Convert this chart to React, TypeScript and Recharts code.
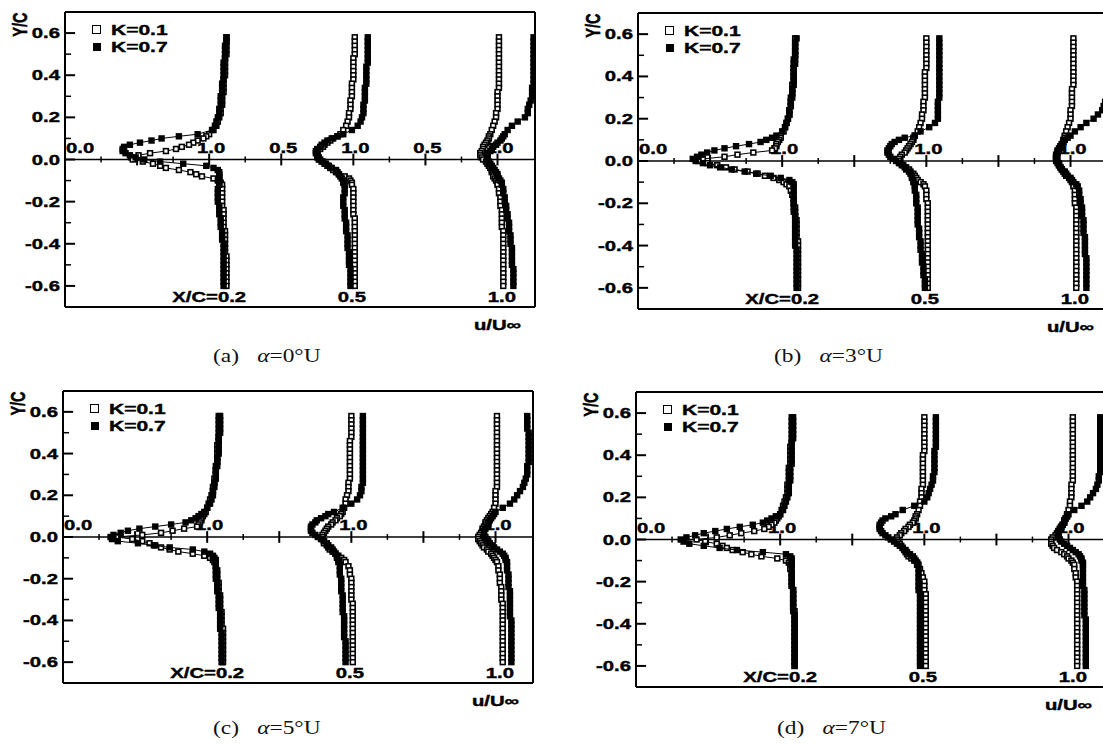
import React from 'react';
import { ComposedChart, Scatter, XAxis, YAxis, ReferenceLine, ReferenceDot, Legend } from 'recharts';

// Y/C measuring stations (shared by every profile)
const yStations = [
  0.58, 0.56, 0.54, 0.52, 0.50, 0.48, 0.46, 0.44, 0.42, 0.40, 0.38, 0.36, 0.34, 0.32, 0.30, 0.28, 0.26, 0.24, 0.22, 0.20, 0.18, 0.16, 0.14,
  0.12, 0.11, 0.10, 0.09, 0.08, 0.07, 0.06, 0.05, 0.04, 0.03, 0.02, 0.01, 0.00, -0.01, -0.02, -0.03, -0.04, -0.05, -0.06, -0.07, -0.08, -0.09, -0.10, -0.11, -0.12,
  -0.14, -0.16, -0.18, -0.20, -0.22, -0.24, -0.26, -0.28, -0.30, -0.32, -0.34, -0.36, -0.38, -0.40, -0.42, -0.44, -0.46, -0.48, -0.50, -0.52, -0.54, -0.56, -0.58, -0.60,
];

// u/U∞ at each station. a = α 0°, b = 3°, c = 5°, d = 7° ; 02/05/10 = X/C ; k01/k07 = K
const a02_k01 = [
  1.12, 1.12, 1.12, 1.12, 1.12, 1.11, 1.11, 1.11, 1.11, 1.11, 1.10, 1.10, 1.10, 1.10, 1.09, 1.09, 1.09, 1.08, 1.08, 1.07, 1.06, 1.05, 1.03,
  1.00, 0.98, 0.96, 0.92, 0.89, 0.86, 0.81, 0.77, 0.70, 0.59, 0.51, 0.46, 0.47, 0.54, 0.61, 0.66, 0.70, 0.79, 0.87, 0.91, 0.95, 1.03, 1.06, 1.08, 1.09,
  1.09, 1.09, 1.09, 1.09, 1.09, 1.10, 1.10, 1.10, 1.10, 1.10, 1.11, 1.11, 1.11, 1.11, 1.11, 1.11, 1.12, 1.12, 1.12, 1.12, 1.12, 1.12, 1.12, 1.12,
];
const a02_k07 = [
  1.12, 1.12, 1.11, 1.11, 1.11, 1.11, 1.10, 1.10, 1.10, 1.10, 1.10, 1.09, 1.09, 1.09, 1.08, 1.08, 1.08, 1.07, 1.07, 1.06, 1.05, 1.04, 1.02,
  0.92, 0.79, 0.67, 0.60, 0.52, 0.45, 0.41, 0.40, 0.40, 0.42, 0.45, 0.49, 0.55, 0.66, 0.82, 0.98, 1.03, 1.06, 1.07, 1.07, 1.07, 1.07, 1.07, 1.07, 1.07,
  1.06, 1.06, 1.06, 1.06, 1.07, 1.07, 1.07, 1.08, 1.08, 1.08, 1.09, 1.09, 1.09, 1.10, 1.10, 1.10, 1.10, 1.10, 1.10, 1.10, 1.10, 1.10, 1.10, 1.10,
];
const a05_k01 = [
  1.01, 1.01, 1.01, 1.01, 1.01, 1.00, 1.00, 1.00, 1.00, 1.00, 1.00, 0.99, 0.99, 0.99, 0.99, 0.98, 0.98, 0.98, 0.97, 0.97, 0.96, 0.95, 0.93,
  0.91, 0.89, 0.86, 0.84, 0.82, 0.80, 0.79, 0.77, 0.75, 0.75, 0.75, 0.75, 0.76, 0.78, 0.80, 0.82, 0.84, 0.86, 0.88, 0.90, 0.94, 0.97, 0.98, 0.99, 0.99,
  1.00, 1.00, 1.00, 1.00, 1.00, 1.00, 1.00, 1.01, 1.01, 1.01, 1.01, 1.01, 1.01, 1.01, 1.01, 1.01, 1.01, 1.01, 1.01, 1.01, 1.01, 1.01, 1.01, 1.01,
];
const a05_k07 = [
  1.10, 1.10, 1.10, 1.10, 1.10, 1.10, 1.10, 1.09, 1.09, 1.09, 1.09, 1.09, 1.08, 1.08, 1.08, 1.08, 1.07, 1.07, 1.07, 1.06, 1.05, 1.03, 0.99,
  0.93, 0.89, 0.85, 0.82, 0.80, 0.78, 0.77, 0.75, 0.74, 0.74, 0.75, 0.76, 0.77, 0.79, 0.81, 0.83, 0.85, 0.88, 0.89, 0.90, 0.91, 0.92, 0.93, 0.93, 0.94,
  0.94, 0.94, 0.93, 0.93, 0.93, 0.94, 0.94, 0.94, 0.95, 0.95, 0.95, 0.96, 0.96, 0.96, 0.96, 0.97, 0.97, 0.97, 0.97, 0.98, 0.98, 0.98, 0.98, 0.98,
];
const a10_k01 = [
  1.01, 1.01, 1.01, 1.01, 1.01, 1.01, 1.01, 1.01, 1.01, 1.01, 1.01, 1.01, 1.01, 1.00, 1.00, 1.00, 1.00, 1.00, 0.99, 0.99, 0.98, 0.97, 0.96,
  0.95, 0.94, 0.94, 0.93, 0.92, 0.91, 0.90, 0.90, 0.89, 0.88, 0.88, 0.89, 0.90, 0.92, 0.93, 0.94, 0.95, 0.96, 0.96, 0.97, 0.97, 0.98, 0.99, 1.00, 1.00,
  1.01, 1.01, 1.02, 1.02, 1.02, 1.03, 1.03, 1.03, 1.03, 1.03, 1.04, 1.04, 1.04, 1.04, 1.04, 1.04, 1.04, 1.04, 1.04, 1.04, 1.04, 1.04, 1.04, 1.04,
];
const a10_k07 = [
  1.25, 1.25, 1.25, 1.25, 1.25, 1.25, 1.25, 1.25, 1.25, 1.25, 1.25, 1.25, 1.24, 1.24, 1.24, 1.23, 1.22, 1.21, 1.21, 1.19, 1.14, 1.10, 1.07,
  1.05, 1.04, 1.03, 1.02, 1.00, 0.99, 0.97, 0.96, 0.95, 0.93, 0.93, 0.93, 0.93, 0.94, 0.95, 0.96, 0.97, 0.98, 0.99, 1.00, 1.00, 1.01, 1.02, 1.03, 1.03,
  1.04, 1.04, 1.05, 1.05, 1.06, 1.06, 1.07, 1.07, 1.08, 1.08, 1.08, 1.09, 1.09, 1.09, 1.10, 1.10, 1.10, 1.10, 1.10, 1.11, 1.11, 1.11, 1.11, 1.11,
];

const b02_k01 = [
  1.09, 1.09, 1.09, 1.09, 1.09, 1.08, 1.08, 1.08, 1.08, 1.08, 1.08, 1.07, 1.07, 1.07, 1.06, 1.06, 1.06, 1.05, 1.05, 1.04, 1.03, 1.02, 1.01,
  0.99, 0.99, 0.98, 0.97, 0.96, 0.96, 0.95, 0.93, 0.80, 0.69, 0.60, 0.45, 0.42, 0.48, 0.55, 0.61, 0.67, 0.76, 0.83, 0.88, 0.94, 0.98, 1.01, 1.03, 1.05,
  1.06, 1.07, 1.08, 1.08, 1.09, 1.09, 1.09, 1.10, 1.10, 1.10, 1.10, 1.10, 1.11, 1.11, 1.11, 1.11, 1.11, 1.11, 1.11, 1.11, 1.11, 1.11, 1.11, 1.11,
];
const b02_k07 = [
  1.10, 1.09, 1.09, 1.09, 1.09, 1.09, 1.09, 1.08, 1.08, 1.08, 1.08, 1.08, 1.07, 1.07, 1.07, 1.06, 1.06, 1.05, 1.05, 1.04, 1.03, 1.02, 1.00,
  0.96, 0.93, 0.89, 0.85, 0.77, 0.68, 0.60, 0.53, 0.48, 0.44, 0.41, 0.38, 0.40, 0.45, 0.50, 0.57, 0.65, 0.74, 0.82, 0.92, 0.99, 1.05, 1.07, 1.08, 1.08,
  1.08, 1.08, 1.08, 1.08, 1.08, 1.08, 1.09, 1.09, 1.09, 1.09, 1.09, 1.09, 1.09, 1.09, 1.10, 1.10, 1.10, 1.10, 1.10, 1.10, 1.10, 1.10, 1.10, 1.10,
];
const b05_k01 = [
  1.00, 1.00, 1.00, 1.00, 1.00, 1.00, 1.00, 1.00, 0.99, 0.99, 0.99, 0.99, 0.99, 0.99, 0.99, 0.98, 0.98, 0.98, 0.97, 0.97, 0.96, 0.95, 0.94,
  0.92, 0.91, 0.91, 0.90, 0.89, 0.88, 0.87, 0.86, 0.85, 0.83, 0.82, 0.81, 0.81, 0.82, 0.84, 0.86, 0.88, 0.89, 0.91, 0.92, 0.93, 0.94, 0.96, 0.98, 0.99,
  1.00, 1.00, 1.00, 1.01, 1.01, 1.01, 1.01, 1.01, 1.01, 1.01, 1.01, 1.01, 1.01, 1.01, 1.01, 1.01, 1.01, 1.01, 1.01, 1.01, 1.01, 1.01, 1.01, 1.01,
];
const b05_k07 = [
  1.09, 1.09, 1.09, 1.09, 1.09, 1.09, 1.09, 1.09, 1.09, 1.09, 1.09, 1.09, 1.09, 1.09, 1.09, 1.08, 1.08, 1.08, 1.08, 1.08, 1.06, 1.02, 0.96,
  0.92, 0.85, 0.81, 0.78, 0.76, 0.75, 0.74, 0.73, 0.73, 0.74, 0.75, 0.77, 0.79, 0.81, 0.83, 0.85, 0.86, 0.88, 0.89, 0.90, 0.90, 0.91, 0.91, 0.92, 0.92,
  0.92, 0.93, 0.93, 0.93, 0.94, 0.94, 0.94, 0.94, 0.94, 0.95, 0.95, 0.95, 0.96, 0.96, 0.96, 0.97, 0.97, 0.97, 0.98, 0.98, 0.98, 0.99, 0.99, 0.99,
];
const b10_k01 = [
  1.02, 1.02, 1.02, 1.02, 1.02, 1.02, 1.02, 1.02, 1.02, 1.02, 1.02, 1.02, 1.01, 1.01, 1.01, 1.01, 1.01, 1.00, 1.00, 1.00, 0.99, 0.98, 0.97,
  0.96, 0.96, 0.95, 0.95, 0.94, 0.93, 0.93, 0.92, 0.91, 0.91, 0.90, 0.90, 0.90, 0.91, 0.92, 0.93, 0.94, 0.95, 0.96, 0.97, 0.99, 1.00, 1.01, 1.02, 1.02,
  1.03, 1.03, 1.03, 1.03, 1.04, 1.04, 1.04, 1.04, 1.04, 1.04, 1.04, 1.04, 1.04, 1.04, 1.04, 1.04, 1.04, 1.04, 1.04, 1.04, 1.04, 1.04, 1.04, 1.04,
];
const b10_k07 = [
  1.26, 1.26, 1.26, 1.26, 1.26, 1.26, 1.26, 1.26, 1.26, 1.26, 1.26, 1.26, 1.25, 1.25, 1.25, 1.24, 1.23, 1.22, 1.19, 1.16, 1.11, 1.07, 1.03,
  1.00, 0.98, 0.96, 0.95, 0.94, 0.93, 0.92, 0.91, 0.91, 0.90, 0.90, 0.90, 0.91, 0.92, 0.92, 0.93, 0.94, 0.96, 0.97, 0.98, 1.00, 1.01, 1.02, 1.04, 1.05,
  1.06, 1.06, 1.07, 1.07, 1.08, 1.08, 1.08, 1.09, 1.09, 1.09, 1.09, 1.10, 1.10, 1.10, 1.10, 1.10, 1.11, 1.11, 1.11, 1.11, 1.11, 1.11, 1.11, 1.11,
];

const c02_k01 = [
  1.08, 1.08, 1.08, 1.08, 1.08, 1.08, 1.08, 1.07, 1.07, 1.07, 1.07, 1.07, 1.06, 1.06, 1.06, 1.05, 1.05, 1.04, 1.04, 1.03, 1.02, 1.01, 1.00,
  0.99, 0.98, 0.97, 0.96, 0.96, 0.95, 0.94, 0.93, 0.84, 0.76, 0.68, 0.55, 0.37, 0.48, 0.55, 0.60, 0.64, 0.68, 0.74, 0.80, 0.90, 0.98, 1.02, 1.04, 1.05,
  1.06, 1.07, 1.07, 1.07, 1.08, 1.08, 1.08, 1.09, 1.09, 1.09, 1.09, 1.10, 1.10, 1.10, 1.10, 1.11, 1.11, 1.11, 1.11, 1.11, 1.11, 1.11, 1.11, 1.11,
];
const c02_k07 = [
  1.09, 1.09, 1.09, 1.09, 1.09, 1.08, 1.08, 1.08, 1.08, 1.08, 1.07, 1.07, 1.07, 1.06, 1.06, 1.06, 1.05, 1.05, 1.04, 1.04, 1.03, 1.02, 1.00,
  0.98, 0.96, 0.94, 0.92, 0.89, 0.85, 0.75, 0.64, 0.53, 0.45, 0.40, 0.35, 0.33, 0.34, 0.38, 0.52, 0.63, 0.74, 0.90, 0.98, 1.02, 1.04, 1.05, 1.06, 1.06,
  1.06, 1.06, 1.06, 1.06, 1.07, 1.07, 1.07, 1.08, 1.08, 1.08, 1.08, 1.09, 1.09, 1.09, 1.09, 1.09, 1.10, 1.10, 1.10, 1.10, 1.10, 1.10, 1.10, 1.10,
];
const c05_k01 = [
  1.00, 1.00, 1.00, 1.00, 1.00, 1.00, 0.99, 0.99, 0.99, 0.99, 0.99, 0.99, 0.99, 0.99, 0.99, 0.99, 0.98, 0.98, 0.98, 0.97, 0.96, 0.96, 0.95,
  0.94, 0.93, 0.92, 0.90, 0.89, 0.87, 0.86, 0.84, 0.83, 0.82, 0.81, 0.80, 0.80, 0.80, 0.81, 0.81, 0.83, 0.84, 0.85, 0.87, 0.89, 0.91, 0.93, 0.95, 0.96,
  0.98, 0.99, 0.99, 1.00, 1.00, 1.00, 1.00, 1.00, 1.00, 1.01, 1.01, 1.01, 1.01, 1.01, 1.01, 1.01, 1.01, 1.01, 1.01, 1.01, 1.01, 1.01, 1.01, 1.01,
];
const c05_k07 = [
  1.08, 1.08, 1.08, 1.08, 1.08, 1.08, 1.08, 1.08, 1.08, 1.08, 1.08, 1.08, 1.08, 1.08, 1.08, 1.08, 1.08, 1.07, 1.07, 1.06, 1.04, 1.00, 0.94,
  0.88, 0.84, 0.82, 0.79, 0.76, 0.75, 0.73, 0.72, 0.72, 0.72, 0.73, 0.75, 0.77, 0.79, 0.81, 0.83, 0.84, 0.86, 0.87, 0.88, 0.89, 0.90, 0.90, 0.91, 0.91,
  0.92, 0.92, 0.92, 0.93, 0.93, 0.93, 0.93, 0.94, 0.94, 0.94, 0.94, 0.94, 0.95, 0.95, 0.95, 0.95, 0.95, 0.95, 0.96, 0.96, 0.96, 0.96, 0.96, 0.96,
];
const c10_k01 = [
  1.01, 1.01, 1.01, 1.01, 1.01, 1.01, 1.01, 1.01, 1.01, 1.01, 1.01, 1.01, 1.01, 1.01, 1.01, 1.01, 1.01, 1.01, 1.00, 1.00, 1.00, 1.00, 0.99,
  0.98, 0.97, 0.96, 0.95, 0.94, 0.93, 0.93, 0.92, 0.91, 0.91, 0.90, 0.89, 0.88, 0.88, 0.89, 0.90, 0.91, 0.92, 0.94, 0.95, 0.97, 0.98, 0.99, 1.00, 1.01,
  1.02, 1.02, 1.03, 1.03, 1.03, 1.04, 1.04, 1.04, 1.04, 1.05, 1.05, 1.05, 1.05, 1.05, 1.05, 1.05, 1.05, 1.05, 1.05, 1.05, 1.05, 1.05, 1.05, 1.05,
];
const c10_k07 = [
  1.22, 1.22, 1.22, 1.22, 1.23, 1.23, 1.23, 1.23, 1.23, 1.23, 1.23, 1.23, 1.22, 1.22, 1.22, 1.21, 1.20, 1.19, 1.17, 1.15, 1.13, 1.10, 1.05,
  1.00, 0.99, 0.98, 0.97, 0.96, 0.95, 0.95, 0.94, 0.93, 0.92, 0.92, 0.92, 0.93, 0.94, 0.95, 0.96, 0.98, 0.99, 1.01, 1.03, 1.05, 1.06, 1.07, 1.07, 1.08,
  1.08, 1.08, 1.09, 1.09, 1.09, 1.09, 1.10, 1.10, 1.10, 1.10, 1.10, 1.10, 1.10, 1.11, 1.11, 1.11, 1.11, 1.11, 1.11, 1.11, 1.11, 1.11, 1.11, 1.11,
];

const d02_k01 = [
  1.08, 1.08, 1.08, 1.08, 1.08, 1.08, 1.08, 1.07, 1.07, 1.07, 1.07, 1.07, 1.06, 1.06, 1.06, 1.06, 1.05, 1.05, 1.05, 1.04, 1.03, 1.02, 1.01,
  1.00, 0.99, 0.98, 0.97, 0.96, 0.94, 0.92, 0.89, 0.82, 0.73, 0.65, 0.56, 0.42, 0.48, 0.56, 0.60, 0.63, 0.67, 0.74, 0.80, 0.87, 0.98, 1.04, 1.06, 1.07,
  1.07, 1.08, 1.08, 1.08, 1.08, 1.09, 1.09, 1.09, 1.09, 1.09, 1.10, 1.10, 1.10, 1.10, 1.10, 1.10, 1.10, 1.10, 1.10, 1.10, 1.10, 1.10, 1.10, 1.10,
];
const d02_k07 = [
  1.09, 1.09, 1.09, 1.09, 1.09, 1.09, 1.08, 1.08, 1.08, 1.08, 1.08, 1.08, 1.07, 1.07, 1.07, 1.07, 1.06, 1.06, 1.06, 1.05, 1.04, 1.03, 1.02,
  1.00, 0.97, 0.94, 0.91, 0.88, 0.81, 0.72, 0.63, 0.55, 0.47, 0.41, 0.35, 0.31, 0.33, 0.37, 0.47, 0.58, 0.70, 0.88, 1.04, 1.07, 1.08, 1.08, 1.08, 1.08,
  1.08, 1.08, 1.08, 1.08, 1.08, 1.09, 1.09, 1.09, 1.09, 1.09, 1.09, 1.10, 1.10, 1.10, 1.10, 1.10, 1.10, 1.10, 1.10, 1.10, 1.10, 1.10, 1.10, 1.10,
];
const d05_k01 = [
  1.00, 1.00, 1.00, 1.00, 1.00, 1.00, 1.00, 1.00, 1.00, 0.99, 0.99, 0.99, 0.99, 0.99, 0.99, 0.99, 0.99, 0.98, 0.98, 0.98, 0.97, 0.97, 0.96,
  0.95, 0.94, 0.94, 0.93, 0.92, 0.90, 0.89, 0.87, 0.86, 0.84, 0.83, 0.81, 0.81, 0.82, 0.83, 0.84, 0.85, 0.86, 0.87, 0.88, 0.89, 0.91, 0.93, 0.95, 0.96,
  0.97, 0.98, 0.99, 1.00, 1.00, 1.00, 1.01, 1.01, 1.01, 1.01, 1.01, 1.01, 1.01, 1.01, 1.01, 1.01, 1.01, 1.01, 1.01, 1.01, 1.01, 1.01, 1.01, 1.01,
];
const d05_k07 = [
  1.08, 1.08, 1.08, 1.08, 1.08, 1.08, 1.08, 1.08, 1.07, 1.07, 1.07, 1.07, 1.07, 1.07, 1.06, 1.06, 1.05, 1.04, 1.03, 1.02, 1.00, 0.93, 0.85,
  0.80, 0.77, 0.73, 0.71, 0.70, 0.69, 0.69, 0.69, 0.70, 0.71, 0.73, 0.75, 0.77, 0.79, 0.81, 0.83, 0.85, 0.87, 0.88, 0.90, 0.92, 0.93, 0.94, 0.95, 0.95,
  0.96, 0.96, 0.96, 0.96, 0.96, 0.96, 0.97, 0.97, 0.97, 0.97, 0.97, 0.97, 0.97, 0.97, 0.97, 0.97, 0.97, 0.97, 0.97, 0.97, 0.97, 0.97, 0.97, 0.97,
];
const d10_k01 = [
  1.03, 1.03, 1.03, 1.03, 1.03, 1.03, 1.03, 1.03, 1.03, 1.03, 1.03, 1.03, 1.03, 1.03, 1.03, 1.03, 1.02, 1.02, 1.02, 1.02, 1.01, 1.01, 1.00,
  0.99, 0.99, 0.98, 0.97, 0.97, 0.96, 0.95, 0.94, 0.93, 0.92, 0.91, 0.89, 0.88, 0.88, 0.88, 0.89, 0.90, 0.92, 0.95, 0.97, 0.99, 1.00, 1.02, 1.03, 1.04,
  1.04, 1.05, 1.05, 1.06, 1.06, 1.06, 1.06, 1.06, 1.06, 1.06, 1.06, 1.06, 1.06, 1.06, 1.06, 1.06, 1.06, 1.06, 1.06, 1.06, 1.06, 1.06, 1.06, 1.06,
];
const d10_k07 = [
  1.22, 1.22, 1.22, 1.22, 1.22, 1.22, 1.22, 1.22, 1.22, 1.22, 1.22, 1.22, 1.22, 1.22, 1.21, 1.21, 1.20, 1.19, 1.17, 1.15, 1.13, 1.09, 1.04,
  1.00, 0.99, 0.98, 0.97, 0.97, 0.96, 0.95, 0.94, 0.93, 0.93, 0.93, 0.93, 0.94, 0.95, 0.97, 0.99, 1.01, 1.03, 1.05, 1.07, 1.08, 1.09, 1.09, 1.10, 1.10,
  1.10, 1.10, 1.10, 1.10, 1.10, 1.11, 1.11, 1.11, 1.11, 1.11, 1.11, 1.11, 1.12, 1.12, 1.12, 1.12, 1.12, 1.12, 1.12, 1.12, 1.12, 1.12, 1.12, 1.12,
];

// each profile is shifted right by its offset on the common u axis
const profileOffsets = [0, 1, 2];
const xcLabels = ['X/C=0.2', '0.5', '1.0'];
const xcLabelAt = [1.0, 1.99, 3.03];
const axisMarkAt = [0, 1, 1.5, 2, 2.5, 3];
const axisMarkText = ['0.0', '1.0', '0.5', '1.0', '0.5', '1.0'];
const yTicks = [-0.6, -0.4, -0.2, 0, 0.2, 0.4, 0.6];
const yMinor = [-0.5, -0.3, -0.1, 0.1, 0.3, 0.5];
const xMajor = [0.5, 1, 1.5, 2, 2.5, 3];
const xMinor = [0.25, 0.75, 1.25, 1.75, 2.25, 2.75];
const captions = ['(a)', '(b)', '(c)', '(d)'];
const alphas = ['0', '3', '5', '7'];

const X_MAX = 3.26;
const STRETCH = 1.4; // the scanned lettering is wide

const bold = { fontFamily: 'Arial, "Liberation Sans", sans-serif', fontWeight: 700, fontSize: 14.5 };

const panels = [
  { plotLeft: 65, plotTop: 12, plotHeight: 295, half: true, k01: [a02_k01, a05_k01, a10_k01], k07: [a02_k07, a05_k07, a10_k07], capLeft: 213, capTop: 347 },
  { plotLeft: 638, plotTop: 13, plotHeight: 296, half: false, k01: [b02_k01, b05_k01, b10_k01], k07: [b02_k07, b05_k07, b10_k07], capLeft: 774, capTop: 347 },
  { plotLeft: 63, plotTop: 391, plotHeight: 292, half: false, k01: [c02_k01, c05_k01, c10_k01], k07: [c02_k07, c05_k07, c10_k07], capLeft: 213, capTop: 719 },
  { plotLeft: 636, plotTop: 392, plotHeight: 295, half: false, k01: [d02_k01, d05_k01, d10_k01], k07: [d02_k07, d05_k07, d10_k07], capLeft: 777, capTop: 719 },
];

const toPoints = (u: number[], offset: number) =>
  u.map((v, i) => ({ x: Math.round((v + offset) * 100) / 100, y: yStations[i] }));

const OpenSquare = (p: any) => (
  <rect x={p.cx - 2.4} y={p.cy - 2.4} width={4.8} height={4.8} fill="#fff" stroke="#000" strokeWidth={1.6} />
);
const FilledSquare = (p: any) => <rect x={p.cx - 3.2} y={p.cy - 3.2} width={6.4} height={6.4} fill="#000" />;

// wide bold label drawn at (x, y)
const WideText = ({ x, y, anchor, children }: any) => (
  <text transform={`translate(${x},${y}) scale(${STRETCH},1)`} textAnchor={anchor} fill="#000" stroke="#000" strokeWidth={0.4} style={bold}>
    {children}
  </text>
);

const textShape = (label: string, dx: number, dy: number, anchor: string) => (p: any) => (
  <WideText x={p.cx + dx} y={p.cy + dy} anchor={anchor}>{label}</WideText>
);

const YTick = (p: any) => (
  <WideText x={p.x} y={p.y + 5} anchor="end">{Number(p.payload.value).toFixed(1)}</WideText>
);

const wideSpan = { display: 'inline-block', transform: `scaleX(${STRETCH})`, transformOrigin: 'left center', WebkitTextStroke: '0.4px #000' };

const LegendBox = () => (
  <div style={{ ...bold, fontSize: 15, lineHeight: '17px', color: '#000' }}>
    <div style={{ display: 'flex', alignItems: 'center' }}>
      <span style={{ display: 'inline-block', width: 9, height: 9, border: '1.4px solid #000', boxSizing: 'border-box', background: '#fff', marginRight: 10 }} />
      <span style={wideSpan}>K=0.1</span>
    </div>
    <div style={{ display: 'flex', alignItems: 'center' }}>
      <span style={{ display: 'inline-block', width: 8, height: 8, background: '#000', marginLeft: 0.5, marginRight: 10.5 }} />
      <span style={wideSpan}>K=0.7</span>
    </div>
  </div>
);

const Panel = ({ cfg }: { cfg: any }) => {
  const marks = axisMarkAt
    .map((x, i) => ({ x, text: axisMarkText[i] }))
    .filter((m) => cfg.half || (m.x !== 1.5 && m.x !== 2.5));
  return (
    <div style={{ position: 'absolute', left: cfg.plotLeft - 65, top: cfg.plotTop - 12 }}>
      <ComposedChart width={560} height={cfg.plotHeight + 50} margin={{ top: 12, right: 25, bottom: 38, left: 0 }}>
        <XAxis type="number" dataKey="x" domain={[0, X_MAX]} allowDataOverflow hide />
        <YAxis
          type="number"
          dataKey="y"
          domain={[-0.7, 0.7]}
          allowDataOverflow
          ticks={yTicks}
          interval={0}
          width={65}
          tickLine={false}
          tickSize={0}
          tickMargin={5}
          axisLine={{ stroke: '#000', strokeWidth: 2 }}
          tick={YTick}
        />
        <ReferenceLine y={0.7} stroke="#000" strokeWidth={2} />
        <ReferenceLine y={-0.7} stroke="#000" strokeWidth={2} />
        <ReferenceLine x={X_MAX} stroke="#000" strokeWidth={2} />
        <ReferenceLine y={0} stroke="#000" strokeWidth={1.5} />
        {xMajor.map((t) => (
          <ReferenceLine key={'xM' + t} segment={[{ x: t, y: -0.028 }, { x: t, y: 0.028 }]} stroke="#000" strokeWidth={2} />
        ))}
        {xMinor.map((t) => (
          <ReferenceLine key={'xm' + t} segment={[{ x: t, y: -0.014 }, { x: t, y: 0.014 }]} stroke="#000" strokeWidth={1.5} />
        ))}
        {yTicks.map((t) => (
          <ReferenceLine key={'yM' + t} segment={[{ x: 0, y: t }, { x: 0.07, y: t }]} stroke="#000" strokeWidth={2} />
        ))}
        {yMinor.map((t) => (
          <ReferenceLine key={'ym' + t} segment={[{ x: 0, y: t }, { x: 0.042, y: t }]} stroke="#000" strokeWidth={1.5} />
        ))}
        {marks.map((m) => (
          <ReferenceDot key={'mk' + m.x} x={m.x} y={0} r={0} ifOverflow="visible"
            shape={textShape(m.text, m.x === 0 ? 1 : 2, -7, m.x === 0 ? 'start' : 'middle')} />
        ))}
        {xcLabels.map((l, i) => (
          <ReferenceDot key={'xc' + i} x={xcLabelAt[i]} y={-0.7} r={0} ifOverflow="visible" shape={textShape(l, 0, -5, 'middle')} />
        ))}
        <ReferenceDot x={3.0} y={-0.7} r={0} ifOverflow="visible" shape={textShape('u/U∞', 0, 23, 'middle')} />
        <ReferenceDot
          x={-0.3}
          y={0.64}
          r={0}
          ifOverflow="visible"
          shape={(p: any) => (
            <text transform={`translate(${p.cx + 5},${p.cy}) scale(${STRETCH},1) rotate(-90)`} textAnchor="middle" fill="#000" stroke="#000" strokeWidth={0.4} style={bold}>
              Y/C
            </text>
          )}
        />
        {cfg.k01.map((u: number[], i: number) => (
          <Scatter key={'k01' + i} data={toPoints(u, profileOffsets[i])} shape={OpenSquare}
            line={{ stroke: '#000', strokeWidth: 1 }} lineJointType="linear" isAnimationActive={false} />
        ))}
        {cfg.k07.map((u: number[], i: number) => (
          <Scatter key={'k07' + i} data={toPoints(u, profileOffsets[i])} shape={FilledSquare}
            line={{ stroke: '#000', strokeWidth: 1 }} lineJointType="linear" isAnimationActive={false} />
        ))}
        <Legend layout="vertical" align="center" verticalAlign="middle" wrapperStyle={{ left: 92, top: 21, width: 120 }} content={() => <LegendBox />} />
      </ComposedChart>
    </div>
  );
};

export default function App() {
  return (
    <div style={{ position: 'absolute', left: 0, top: 0, width: 1103, height: 745, overflow: 'hidden', background: '#fff' }}>
      {panels.map((cfg, i) => (
        <React.Fragment key={i}>
          <Panel cfg={cfg} />
          <div
            style={{
              position: 'absolute',
              left: cfg.capLeft,
              top: cfg.capTop,
              fontFamily: '"Liberation Serif", "Times New Roman", serif',
              fontSize: 18,
              lineHeight: '19px',
              whiteSpace: 'nowrap',
              color: '#111',
              transform: 'scaleX(1.3)',
              transformOrigin: 'left top',
            }}
          >
            <span>{captions[i]}</span>
            <span style={{ marginLeft: 14 }}>
              <i>α</i>=<span>{alphas[i]}°U</span>
            </span>
          </div>
        </React.Fragment>
      ))}
    </div>
  );
}
